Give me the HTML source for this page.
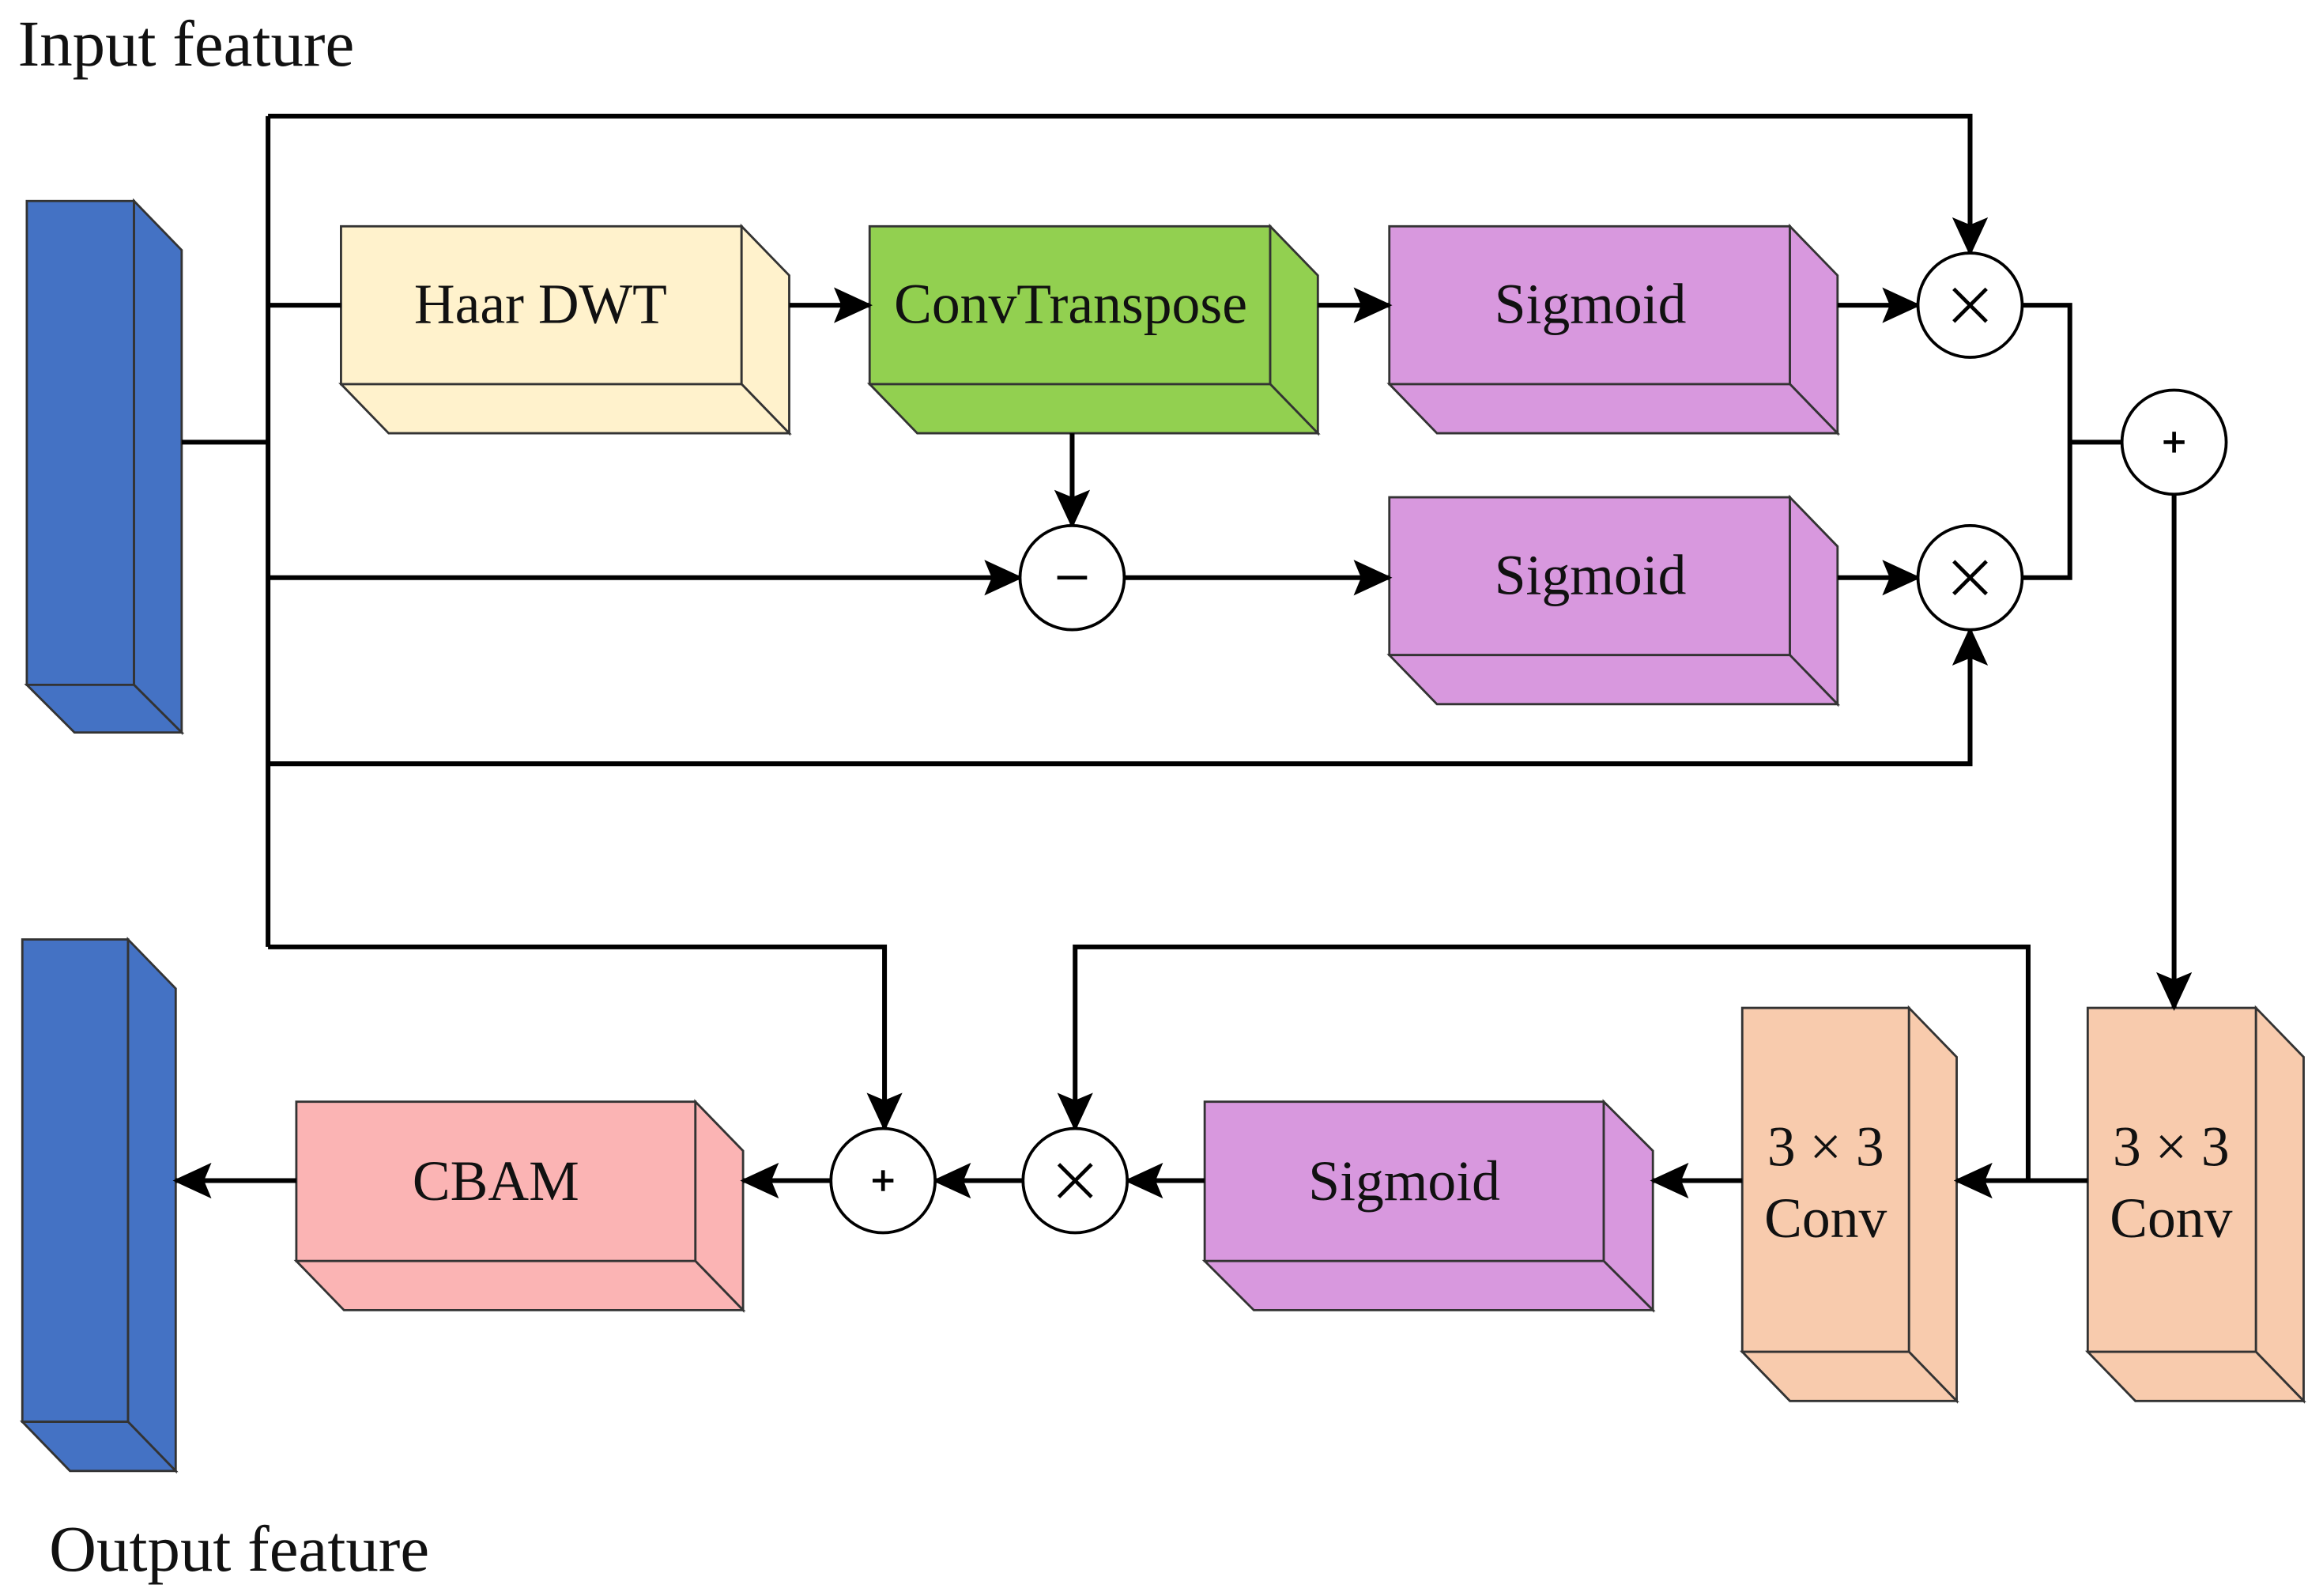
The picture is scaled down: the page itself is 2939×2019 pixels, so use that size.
<!DOCTYPE html>
<html><head><meta charset="utf-8"><style>
html,body{margin:0;padding:0;background:#fff;}
svg{display:block;}
text{font-family:"Liberation Serif","Times New Roman",serif;fill:#111;}
</style></head><body>
<svg width="2939" height="2019" viewBox="0 0 1560 1072" preserveAspectRatio="none" xmlns="http://www.w3.org/2000/svg">
<defs>
<marker id="a" markerUnits="userSpaceOnUse" markerWidth="26" markerHeight="24" refX="24" refY="12" orient="auto">
<path d="M0,0 L26,12 L0,24 L5,12 Z" fill="#000"/>
</marker>
</defs>
<text x="12" y="44" font-size="44">Input feature</text>
<text x="33" y="1055" font-size="44">Output feature</text>

<g stroke="#333" stroke-width="1.5">
<rect x="18" y="135" width="72" height="325" fill="#4472c4"/>
<polygon points="90,135 122,168 122,492 90,460" fill="#4472c4"/>
<polygon points="18,460 90,460 122,492 50,492" fill="#4472c4"/>
<rect x="15" y="631" width="71" height="324" fill="#4472c4"/>
<polygon points="86,631 118,664 118,988 86,955" fill="#4472c4"/>
<polygon points="15,955 86,955 118,988 47,988" fill="#4472c4"/>
<rect x="229" y="152" width="269" height="106" fill="#fff2cc"/>
<polygon points="498,152 530,185 530,291 498,258" fill="#fff2cc"/>
<polygon points="229,258 498,258 530,291 261,291" fill="#fff2cc"/>
<rect x="584" y="152" width="269" height="106" fill="#92d050"/>
<polygon points="853,152 885,185 885,291 853,258" fill="#92d050"/>
<polygon points="584,258 853,258 885,291 616,291" fill="#92d050"/>
<rect x="933" y="152" width="269" height="106" fill="#d898de"/>
<polygon points="1202,152 1234,185 1234,291 1202,258" fill="#d898de"/>
<polygon points="933,258 1202,258 1234,291 965,291" fill="#d898de"/>
<rect x="933" y="334" width="269" height="106" fill="#d898de"/>
<polygon points="1202,334 1234,367 1234,473 1202,440" fill="#d898de"/>
<polygon points="933,440 1202,440 1234,473 965,473" fill="#d898de"/>
<rect x="809" y="740" width="268" height="107" fill="#d898de"/>
<polygon points="1077,740 1110,773 1110,880 1077,847" fill="#d898de"/>
<polygon points="809,847 1077,847 1110,880 842,880" fill="#d898de"/>
<rect x="199" y="740" width="268" height="107" fill="#fbb4b4"/>
<polygon points="467,740 499,773 499,880 467,847" fill="#fbb4b4"/>
<polygon points="199,847 467,847 499,880 231,880" fill="#fbb4b4"/>
<rect x="1170" y="677" width="112" height="231" fill="#f8cbad"/>
<polygon points="1282,677 1314,710 1314,941 1282,908" fill="#f8cbad"/>
<polygon points="1170,908 1282,908 1314,941 1202,941" fill="#f8cbad"/>
<rect x="1402" y="677" width="113" height="231" fill="#f8cbad"/>
<polygon points="1515,677 1547,710 1547,941 1515,908" fill="#f8cbad"/>
<polygon points="1402,908 1515,908 1547,941 1434,941" fill="#f8cbad"/>
</g>

<g font-size="38" text-anchor="middle">
<text x="363" y="217">Haar DWT</text>
<text x="719" y="217">ConvTranspose</text>
<text x="1068" y="217">Sigmoid</text>
<text x="1068" y="399">Sigmoid</text>
<text x="943" y="806">Sigmoid</text>
<text x="333" y="806">CBAM</text>
<text x="1226" y="783">3 × 3</text>
<text x="1226" y="831">Conv</text>
<text x="1458" y="783">3 × 3</text>
<text x="1458" y="831">Conv</text>
</g>

<g stroke="#000" stroke-width="3.2" fill="none">
<polyline points="122,297 180,297"/>
<polyline points="180,78 180,636"/>
<polyline points="180,78 1323,78 1323,170" marker-end="url(#a)"/>
<polyline points="180,205 229,205"/>
<polyline points="530,205 584,205" marker-end="url(#a)"/>
<polyline points="885,205 933,205" marker-end="url(#a)"/>
<polyline points="1234,205 1288,205" marker-end="url(#a)"/>
<polyline points="720,291 720,353" marker-end="url(#a)"/>
<polyline points="180,388 685,388" marker-end="url(#a)"/>
<polyline points="755,388 933,388" marker-end="url(#a)"/>
<polyline points="1234,388 1288,388" marker-end="url(#a)"/>
<polyline points="180,513 1323,513 1323,423" marker-end="url(#a)"/>
<polyline points="1358,205 1390,205 1390,388 1358,388"/>
<polyline points="1390,297 1425,297"/>
<polyline points="1460,332 1460,677" marker-end="url(#a)"/>
<polyline points="1402,793 1314,793" marker-end="url(#a)"/>
<polyline points="1362,793 1362,636 722,636 722,758" marker-end="url(#a)"/>
<polyline points="1170,793 1110,793" marker-end="url(#a)"/>
<polyline points="809,793 757,793" marker-end="url(#a)"/>
<polyline points="687,793 628,793" marker-end="url(#a)"/>
<polyline points="180,636 594,636 594,758" marker-end="url(#a)"/>
<polyline points="558,793 499,793" marker-end="url(#a)"/>
<polyline points="199,793 118,793" marker-end="url(#a)"/>
</g>

<g stroke="#000" stroke-width="2" fill="#fff">
<circle cx="1323" cy="205" r="35"/>
<circle cx="1323" cy="388" r="35"/>
<circle cx="720" cy="388" r="35"/>
<circle cx="1460" cy="297" r="35"/>
<circle cx="722" cy="793" r="35"/>
<circle cx="593" cy="793" r="35"/>
</g>
<g stroke="#000" stroke-width="2.5">
<line x1="1312" y1="194" x2="1334" y2="216"/><line x1="1334" y1="194" x2="1312" y2="216"/>
<line x1="1312" y1="377" x2="1334" y2="399"/><line x1="1334" y1="377" x2="1312" y2="399"/>
<line x1="711" y1="782" x2="733" y2="804"/><line x1="733" y1="782" x2="711" y2="804"/>
<line x1="710" y1="388" x2="730" y2="388"/>
<line x1="1453" y1="297" x2="1467" y2="297"/><line x1="1460" y1="290" x2="1460" y2="304"/>
<line x1="586" y1="793" x2="600" y2="793"/><line x1="593" y1="786" x2="593" y2="800"/>
</g>
</svg>
</body></html>
